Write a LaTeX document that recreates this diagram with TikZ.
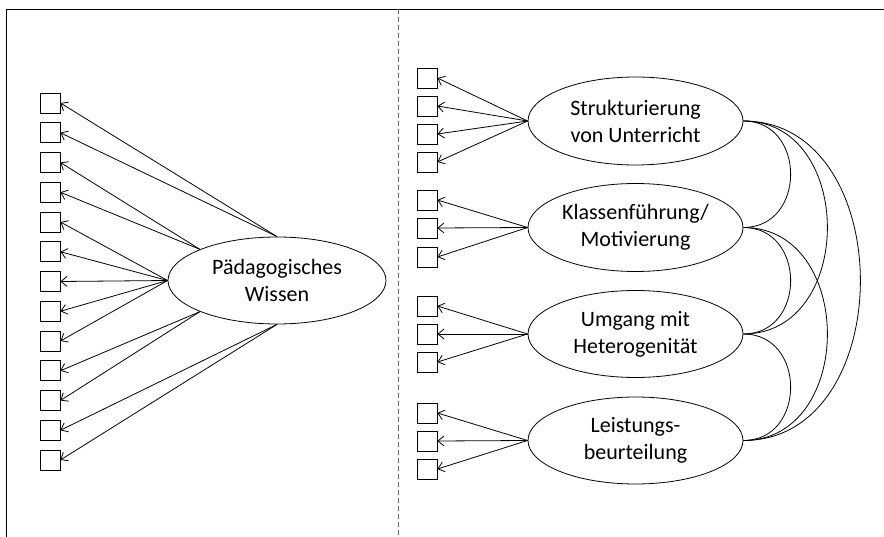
\documentclass[tikz,border=0pt]{standalone}
\usepackage{fontspec}
\setmainfont{Carlito}
\usetikzlibrary{shapes.geometric,arrows.meta}
\begin{document}
\begin{tikzpicture}[x=1pt,y=-1pt,
  ind/.style={draw, line width=0.8pt, minimum size=20pt, inner sep=0pt, fill=white},
  lat/.style={draw, ellipse, line width=0.8pt, inner sep=0pt, align=center,
    font=\fontsize{22}{27}\selectfont},
  load/.style={line width=0.8pt, -{Straight Barb[length=6pt,width=10pt,line width=0.8pt]}},
  cov/.style={line width=0.8pt}]
\useasboundingbox (0,0) rectangle (884,537);
% frame
\draw[line width=1pt] (6,537) -- (6,9.5) -- (884,9.5);
\draw[gray!80!black, line width=0.8pt, dash pattern=on 5pt off 3pt] (398,9.5) -- (398,537);
% left part
\foreach \i in {1,...,13} {
  \node[ind] (L\i) at (50, {103+29.75*(\i-1)}) {};
}
\node[lat, minimum width=218pt, minimum height=87pt] (PW) at (277,280.5) {Pädagogisches\\Wissen};
\foreach \i in {1,2} \draw[load] (PW.north) -- (L\i.east);
\foreach \i in {3,4} \draw[load] (PW.158) -- (L\i.east);
\foreach \i in {5,...,9} \draw[load] (PW.west) -- (L\i.east);
\foreach \i in {10,11} \draw[load] (PW.202) -- (L\i.east);
\foreach \i in {12,13} \draw[load] (PW.south) -- (L\i.east);
% right part
\foreach \i/\y in {1/78,2/106,3/134,4/162,5/200,6/228,7/257,8/306,9/334,10/362,11/413,12/441,13/469} {
  \node[ind] (R\i) at (427,\y) {};
}
\node[lat, minimum width=215pt, minimum height=88pt] (E1) at (635.5,121) {Strukturierung\\von Unterricht};
\node[lat, minimum width=215pt, minimum height=88pt] (E2) at (635.5,227.5) {Klassenführung/\\Motivierung};
\node[lat, minimum width=215pt, minimum height=87pt] (E3) at (635.5,334) {Umgang mit\\Heterogenität};
\node[lat, minimum width=215pt, minimum height=87pt] (E4) at (635.5,440.5) {Leistungs-\\beurteilung};
\foreach \i in {1,2,3,4} \draw[load] (E1.west) -- (R\i.east);
\foreach \i in {5,6,7} \draw[load] (E2.west) -- (R\i.east);
\foreach \i in {8,9,10} \draw[load] (E3.west) -- (R\i.east);
\foreach \i in {11,12,13} \draw[load] (E4.west) -- (R\i.east);
% correlations
\draw[cov] (E1.east) .. controls +(63,0) and +(63,0) .. (E2.east);
\draw[cov] (E2.east) .. controls +(63,0) and +(63,0) .. (E3.east);
\draw[cov] (E3.east) .. controls +(63,0) and +(63,0) .. (E4.east);
\draw[cov] (E1.east) .. controls +(112,0) and +(112,0) .. (E3.east);
\draw[cov] (E2.east) .. controls +(112,0) and +(112,0) .. (E4.east);
\draw[cov] (E1.east) .. controls +(156,0) and +(156,0) .. (E4.east);
\end{tikzpicture}
\end{document}
